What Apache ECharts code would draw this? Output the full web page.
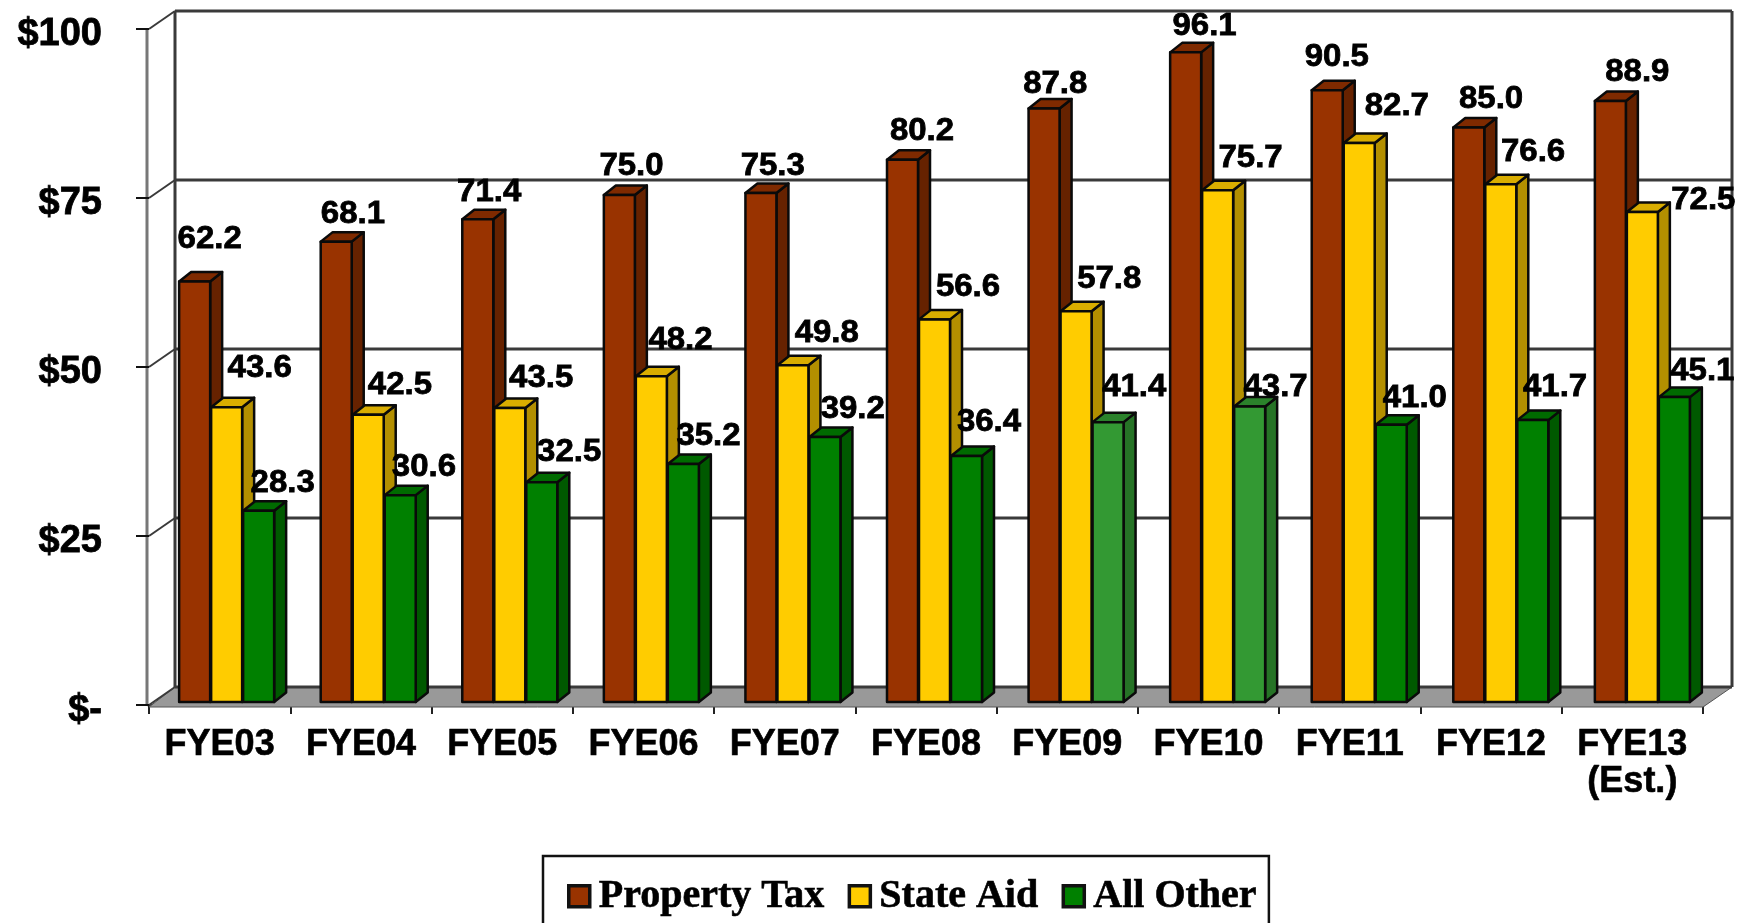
<!DOCTYPE html>
<html>
<head>
<meta charset="utf-8">
<title>Revenue by source</title>
<script src="https://cdn.jsdelivr.net/npm/echarts@6/dist/echarts.min.js"></script>
<style>
html, body { margin: 0; padding: 0; background: #fff; overflow: hidden; }
#chart { width: 1744px; height: 923px; }
</style>
</head>
<body>
<div id="chart"></div>
<script>
const categories = ['FYE03', 'FYE04', 'FYE05', 'FYE06', 'FYE07', 'FYE08', 'FYE09', 'FYE10', 'FYE11', 'FYE12', 'FYE13\n(Est.)'];
const propertyTax = [62.2, 68.1, 71.4, 75.0, 75.3, 80.2, 87.8, 96.1, 90.5, 85.0, 88.9];
const stateAid = [43.6, 42.5, 43.5, 48.2, 49.8, 56.6, 57.8, 75.7, 82.7, 76.6, 72.5];
const allOther = [28.3, 30.6, 32.5, 35.2, 39.2, 36.4, 41.4, 43.7, 41.0, 41.7, 45.1];
const yTicks = [0, 25, 50, 75, 100];

// the box the bars stand in, and the bars themselves
const WALL_DX = 26, WALL_DY = -18;
const BAR_DX = 12, BAR_DY = -9.5, BAR_W = 31, BAR_BASE = -3;
const FRAME = '#3a3a3a';
const OUTLINE = '#0a0a0a';
const SANS = '"Liberation Sans", Arial, sans-serif';

const barStyles = [
    { name: 'Property Tax', values: propertyTax, left: -40.5, front: '#993300', side: '#662200', top: '#7f2a00', labelX: -4, labelY: -29 },
    { name: 'State Aid', values: stateAid, left: -8.5, front: '#ffcc00', side: '#b38f00', top: '#d9ad00', labelX: 42, labelY: -32 },
    { name: 'All Other', values: allOther, left: 23.5, front: '#008000', side: '#005900', top: '#006b00', labelX: 63, labelY: -28 }
];
// two of the green bars are paler in the original
const paleGreen = { 6: true, 7: true };
// labels the original placed away from the usual spot: 'series-category': [dx, dy]
const labelNudge = {
    '0-0': [-6, -13], '0-1': [-4, 2], '0-2': [-9, 2], '0-3': [-8, 0], '0-4': [-8, 2],
    '0-6': [-8, 5], '0-7': [0, 3], '0-8': [-9, -4], '0-9': [4, 1], '0-10': [9, 0],
    '1-0': [-2, -7], '1-1': [-3, 2], '1-2': [-3, 2], '1-3': [-5, -4], '1-8': [5, -5], '1-10': [29, 20],
    '2-2': [4, -2], '2-3': [2, 0], '2-4': [5, 0], '2-5': [0, -6], '2-6': [4, -7],
    '2-7': [4, 9], '2-8': [2, 1], '2-9': [1, -5], '2-10': [7, 2]
};

function frameItem(params, api) {
    const box = params.coordSys;
    const y = api.coord([0, api.value(0)])[1];
    const left = box.x, right = box.x + box.width;
    const line = (x1, y1, x2, y2, width, color) => ({
        type: 'line',
        shape: { x1, y1, x2, y2 },
        style: { stroke: color || FRAME, lineWidth: width || 3 }
    });
    return {
        type: 'group',
        children: [
            line(left + WALL_DX, y + WALL_DY, right + WALL_DX + 3, y + WALL_DY),
            line(left, y, left + WALL_DX, y + WALL_DY, 2),
            line(left - 13, y, left, y, 2, '#111')
        ]
    };
}

function wallItem(params, api) {
    const box = params.coordSys;
    const left = box.x, right = box.x + box.width;
    const top = box.y, bottom = box.y + box.height;
    const line = (x1, y1, x2, y2, color) => ({
        type: 'line',
        shape: { x1, y1, x2, y2 },
        style: { stroke: color || FRAME, lineWidth: 3 }
    });
    return {
        type: 'group',
        children: [
            {
                type: 'polygon',
                shape: { points: [[left, bottom + 2], [left + WALL_DX, bottom + WALL_DY], [right + WALL_DX + 3, bottom + WALL_DY], [right, bottom + 2]] },
                style: { fill: '#999999', stroke: '#555', lineWidth: 1 }
            },
            line(left - 2, top, left - 2, bottom, '#777'),
            line(left + WALL_DX, top + WALL_DY, left + WALL_DX, bottom + WALL_DY),
            line(right + WALL_DX + 3, top + WALL_DY, right + WALL_DX + 3, bottom + WALL_DY)
        ]
    };
}

function barRenderer(style) {
    return function (params, api) {
        const cat = api.value(0);
        const center = api.coord([cat, 0]);
        const top = api.coord([cat, api.value(1)]);
        const x0 = center[0] + style.left + cat * 0.3;
        const x1 = x0 + BAR_W;
        const yb = center[1] + BAR_BASE;
        const yt = top[1] + BAR_BASE;
        let front = style.front, side = style.side, cap = style.top;
        if (style.name === 'All Other' && paleGreen[cat]) {
            front = '#339933'; side = '#267326'; cap = '#2b822b';
        }
        const face = (points, fill) => ({
            type: 'polygon',
            shape: { points },
            style: { fill, stroke: OUTLINE, lineWidth: 2.5, lineJoin: 'round' }
        });
        return {
            type: 'group',
            children: [
                face([[x1, yb], [x1 + BAR_DX, yb + BAR_DY], [x1 + BAR_DX, yt + BAR_DY], [x1, yt]], side),
                face([[x0, yt], [x0 + BAR_DX, yt + BAR_DY], [x1 + BAR_DX, yt + BAR_DY], [x1, yt]], cap),
                face([[x0, yb], [x1, yb], [x1, yt], [x0, yt]], front)
            ]
        };
    };
}

function labelRenderer(style, seriesIndex) {
    return function (params, api) {
        const cat = api.value(0);
        const value = api.value(1);
        const center = api.coord([cat, 0]);
        const top = api.coord([cat, value]);
        const nudge = labelNudge[seriesIndex + '-' + cat] || [0, 0];
        return {
            type: 'text',
            x: center[0] + style.labelX + nudge[0],
            y: top[1] + BAR_BASE + style.labelY + nudge[1],
            scaleX: 1.03,
            style: {
                text: value.toFixed(1),
                fill: '#000',
                stroke: '#000',
                lineWidth: 0.8,
                font: 'bold 32px ' + SANS,
                align: 'center',
                verticalAlign: 'middle',
                textAlign: 'center',
                textVerticalAlign: 'middle'
            }
        };
    };
}

const rows = values => values.map((v, i) => [i, v]);

const series = [
    { type: 'custom', silent: true, z: 1, renderItem: wallItem, data: [[0]], encode: { y: 0 } },
    { type: 'custom', silent: true, z: 1, renderItem: frameItem, data: yTicks.map(v => [v]), encode: { y: 0 } }
];
barStyles.forEach(style => {
    series.push({
        name: style.name,
        type: 'custom',
        silent: true,
        z: 2,
        itemStyle: { color: style.front },
        renderItem: barRenderer(style),
        data: rows(style.values),
        encode: { x: 0, y: 1 }
    });
});
barStyles.forEach((style, i) => {
    series.push({
        type: 'custom',
        silent: true,
        z: 3,
        renderItem: labelRenderer(style, i),
        data: rows(style.values),
        encode: { x: 0, y: 1 }
    });
});

const chart = echarts.init(document.getElementById('chart'));
chart.setOption({
    animation: false,
    backgroundColor: '#ffffff',
    grid: { left: 149, right: 41, top: 29, bottom: 218, containLabel: false },
    legend: {
        data: barStyles.map(s => s.name),
        left: 543,
        top: 856,
        padding: [20, 12, 40, 24],
        itemGap: 23,
        itemWidth: 21,
        itemHeight: 21,
        icon: 'rect',
        itemStyle: { borderColor: '#111', borderWidth: 3.5 },
        borderColor: '#111',
        borderWidth: 2.5,
        selectedMode: false,
        textStyle: {
            color: '#000',
            fontFamily: '"Liberation Serif", "Times New Roman", serif',
            fontWeight: 'bold',
            fontSize: 40,
            textBorderColor: '#000',
            textBorderWidth: 0.6,
            padding: [0, 0, 0, 4]
        }
    },
    xAxis: {
        type: 'category',
        data: categories,
        offset: 3,
        axisLine: { lineStyle: { color: '#444', width: 3 } },
        axisTick: { show: true, length: 9, lineStyle: { color: '#222', width: 2 } },
        axisLabel: {
            interval: 0,
            margin: 19,
            color: '#000',
            lineHeight: 37,
            fontFamily: SANS,
            fontWeight: 'bold',
            fontSize: 36,
            textBorderColor: '#000',
            textBorderWidth: 0.6
        }
    },
    yAxis: {
        type: 'value',
        min: 0,
        max: 100,
        interval: 25,
        splitLine: { show: false },
        axisLine: { show: false },
        axisTick: { show: false },
        axisLabel: {
            margin: 47,
            // top-aligned short line box: sits the text a little below its tick, as in the original
            verticalAlign: 'top',
            lineHeight: 12,
            color: '#000',
            fontFamily: SANS,
            fontWeight: 'bold',
            fontSize: 38,
            textBorderColor: '#000',
            textBorderWidth: 0.8,
            formatter: v => (v === 0 ? '$-' : '$' + v)
        }
    },
    series: series
});
</script>
</body>
</html>
